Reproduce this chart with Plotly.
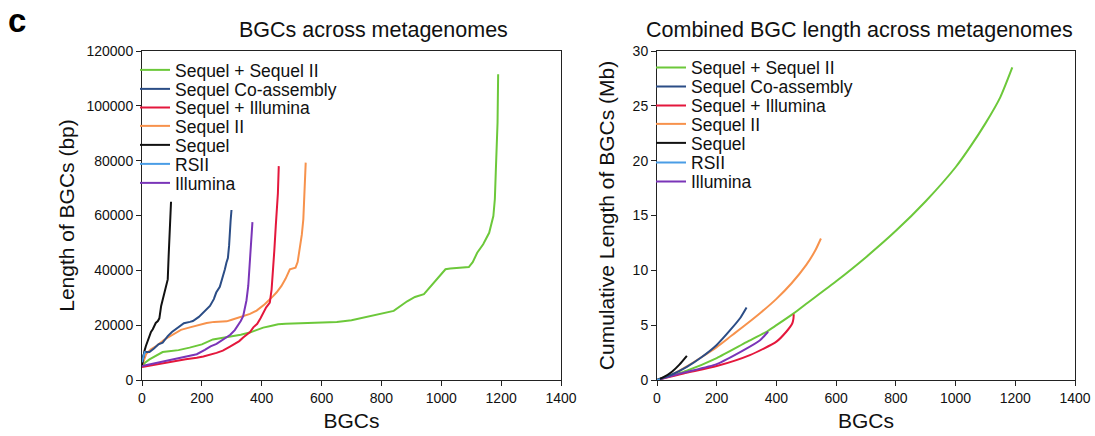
import plotly.graph_objects as go

W, H = 1095, 436

names = ["Sequel + Sequel II", "Sequel Co-assembly", "Sequel + Illumina",
         "Sequel II", "Sequel", "RSII", "Illumina"]
colors = ["#6cc83a", "#2b4d86", "#e4173c", "#f7924c", "#111111", "#4a9de6", "#7a35b8"]

# ---- Left panel: BGC lengths (bp), sorted ----
ss2_x = [0, 10, 25, 50, 69, 90, 122, 159, 200, 237, 265, 293, 330, 360, 385, 405, 430, 455, 480, 517,
         599, 651, 700, 740, 790, 841, 886, 912, 942, 975, 1008, 1014, 1030, 1060, 1092, 1105, 1120,
         1140, 1160, 1174, 1179, 1182, 1185, 1188, 1190]
ss2_y = [5100, 6300, 7500, 9000, 10200, 10500, 10900, 11800, 13000, 14800, 15300, 15800, 16500, 17300,
         18300, 19100, 19700, 20300, 20500, 20700, 20900, 21200, 21800, 22700, 23900, 25200, 28700,
         30300, 31300, 35500, 39800, 40400, 40700, 41000, 41200, 43000, 46400, 49500, 53700, 59800,
         66000, 75600, 84000, 93900, 111500]
co_x = [0, 5, 10, 25, 40, 55, 69, 86, 100, 125, 140, 160, 170, 190, 200, 215, 227, 240, 248, 260, 270,
        277, 282, 287, 291, 293, 296, 299]
co_y = [5700, 9000, 10200, 10200, 11500, 13000, 13600, 16000, 17500, 19700, 20700, 21200, 21500, 23000,
        24000, 25800, 27000, 29500, 31900, 34000, 37500, 40400, 42800, 44500, 49000, 55000, 58000, 62000]
si_x = [0, 38, 71, 100, 146, 183, 205, 249, 270, 294, 325, 338, 361, 372, 385, 396, 405, 415, 422, 427,
        433, 438, 442, 447, 451, 454, 457]
si_y = [4700, 5500, 6100, 6800, 7600, 8100, 8600, 9900, 10700, 12200, 14200, 15500, 17500, 19200, 20500,
        22500, 24500, 26500, 27500, 28200, 33000, 39200, 47000, 56200, 62000, 68000, 78000]
s2_x = [0, 5, 14, 30, 49, 74, 93, 110, 130, 160, 193, 216, 241, 260, 283, 300, 320, 338, 361, 383, 410,
        438, 450, 466, 480, 494, 505, 513, 520, 528, 534, 539, 543, 547]
s2_y = [5100, 7000, 9500, 11200, 12500, 14700, 16000, 17200, 18300, 19200, 20300, 20800, 21200, 21200,
        21400, 22000, 22700, 23500, 24100, 25300, 27600, 30600, 32000, 34300, 37000, 40400, 40800,
        41000, 43000, 48000, 53000, 58600, 68000, 79300]
sq_x = [0, 3, 8, 13, 22, 30, 36, 46, 53, 58, 64, 70, 75, 80, 86, 89, 91, 94, 96, 97]
sq_y = [5500, 8000, 10500, 12400, 15500, 17500, 18500, 20800, 21500, 22500, 27000, 29500, 31900, 34000,
        36700, 45200, 50000, 56200, 60000, 65000]
rs_x = [0, 2, 4, 6, 8, 10]
rs_y = [6500, 7500, 8500, 9000, 9500, 10500]
il_x = [0, 38, 71, 100, 146, 183, 210, 229, 249, 265, 280, 295, 310, 320, 330, 338, 344, 349, 355, 359,
        362, 365, 367, 369]
il_y = [5100, 6000, 6800, 7600, 8600, 9400, 11000, 12300, 13200, 14300, 15300, 16500, 18200, 19800,
        21500, 23300, 26000, 29000, 34300, 40000, 46500, 50000, 53000, 57600]

# ---- Right panel: cumulative length (Mb) ----
c_ss2_x = [0, 100, 200, 300, 367, 400, 459, 500, 600, 700, 800, 900, 1000, 1050, 1100, 1150, 1190]
c_ss2_y = [0, 0.85, 2.0, 3.45, 4.4, 5.0, 6.1, 6.95, 9.0, 11.2, 13.6, 16.3, 19.4, 21.3, 23.4, 25.8, 28.5]
c_co_x = [0, 50, 100, 150, 200, 250, 280, 300]
c_co_y = [0, 0.5, 1.2, 2.1, 3.2, 4.7, 5.7, 6.6]
c_si_x = [0, 89, 200, 311, 400, 433, 453, 457, 458]
c_si_y = [0, 0.6, 1.27, 2.27, 3.5, 4.4, 5.15, 5.6, 6.0]
c_s2_x = [0, 50, 100, 150, 200, 250, 300, 350, 400, 450, 500, 530, 549]
c_s2_y = [0, 0.5, 1.25, 2.1, 3.0, 4.05, 5.1, 6.2, 7.4, 8.8, 10.5, 11.8, 12.9]
c_sq_x = [0, 25, 50, 75, 100]
c_sq_y = [0, 0.3, 0.75, 1.4, 2.2]
c_rs_x = [0, 2, 4, 6, 8, 10]
c_rs_y = [0, 0.014, 0.03, 0.048, 0.066, 0.085]
c_il_x = [0, 89, 200, 289, 344, 372]
c_il_y = [0, 0.67, 1.45, 2.7, 3.6, 4.4]

left = [(ss2_x, ss2_y), (co_x, co_y), (si_x, si_y), (s2_x, s2_y), (sq_x, sq_y), (rs_x, rs_y), (il_x, il_y)]
right = [(c_ss2_x, c_ss2_y), (c_co_x, c_co_y), (c_si_x, c_si_y), (c_s2_x, c_s2_y),
         (c_sq_x, c_sq_y), (c_rs_x, c_rs_y), (c_il_x, c_il_y)]

FONT = "Liberation Sans, Arial, sans-serif"
LEG_SIZE = 17.5


def px_x(p):
    return p / W


def px_y(p):
    return 1 - p / H


# legend row centres (px) for each panel
left_rows = [70, 89, 107.5, 126, 145, 164, 183]
right_rows = [67.5, 86.5, 105.5, 124, 143, 162.5, 181.5]

fig = go.Figure()
order = [0, 3, 2, 6, 1, 4, 5]
legends = {}
for i in order:
    x, y = left[i]
    lname = "legend" if i == 0 else f"legend{i + 1}"
    fig.add_trace(go.Scatter(x=x, y=y, mode="lines", name=names[i], legend=lname,
                             line=dict(color=colors[i], width=2), xaxis="x", yaxis="y"))
    legends[lname] = dict(x=px_x(135), y=px_y(left_rows[i]), xanchor="left", yanchor="middle",
                          bgcolor="rgba(0,0,0,0)", itemwidth=30,
                          font=dict(family=FONT, size=LEG_SIZE, color="#111"))
for i in order:
    x, y = right[i]
    lname = f"legend{i + 8}"
    fig.add_trace(go.Scatter(x=x, y=y, mode="lines", name=names[i], legend=lname,
                             line=dict(color=colors[i], width=2, shape="spline", smoothing=0.6),
                             xaxis="x2", yaxis="y2"))
    legends[lname] = dict(x=px_x(651), y=px_y(right_rows[i]), xanchor="left", yanchor="middle",
                          bgcolor="rgba(0,0,0,0)", itemwidth=30,
                          font=dict(family=FONT, size=LEG_SIZE, color="#111"))

axis_common = dict(showline=True, linecolor="#222", linewidth=1, mirror=True, ticks="outside",
                   ticklen=5, tickcolor="#222", showgrid=False, zeroline=False, automargin=False,
                   tickfont=dict(family=FONT, size=14, color="#111"))
ydom = [px_y(380), px_y(51)]
tfont = dict(family=FONT, size=21, color="#111")
hfont = dict(family=FONT, size=21.5, color="#111")

fig.update_layout(
    width=W, height=H, margin=dict(l=0, r=0, t=0, b=0, autoexpand=False),
    paper_bgcolor="white", plot_bgcolor="white",
    xaxis=dict(domain=[px_x(142), px_x(561)], range=[0, 1400], dtick=200, anchor="y",
               title=dict(text="BGCs", font=tfont, standoff=8), **axis_common),
    yaxis=dict(domain=ydom, range=[0, 120000], dtick=20000, anchor="x", tickformat="d",
               title=dict(text="Length of BGCs (bp)", font=tfont, standoff=6), **axis_common),
    xaxis2=dict(domain=[px_x(657), px_x(1075)], range=[0, 1400], dtick=200, anchor="y2",
                title=dict(text="BGCs", font=tfont, standoff=8), **axis_common),
    yaxis2=dict(domain=ydom, range=[0, 30], dtick=5, anchor="x2",
                title=dict(text="Cumulative Length of BGCs (Mb)", font=tfont, standoff=12),
                **axis_common),
    annotations=[
        dict(text="BGCs across metagenomes", x=px_x(373), y=px_y(30), xref="paper", yref="paper",
             xanchor="center", yanchor="middle", showarrow=False, font=hfont),
        dict(text="Combined BGC length across metagenomes", x=px_x(859), y=px_y(30),
             xref="paper", yref="paper", xanchor="center", yanchor="middle", showarrow=False,
             font=hfont),
        dict(text="<b>c</b>", x=px_x(17), y=px_y(21), xref="paper", yref="paper",
             xanchor="center", yanchor="middle", showarrow=False,
             font=dict(family=FONT, size=33, color="#000")),
    ],
    showlegend=True,
    **legends,
)

fig.write_html("out.html")
